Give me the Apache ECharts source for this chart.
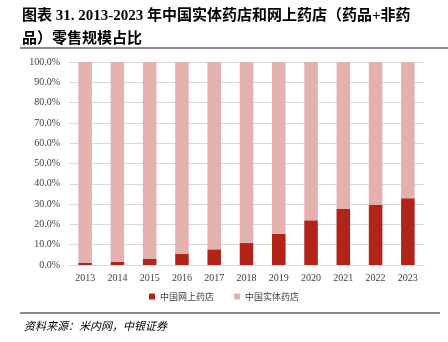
<!DOCTYPE html>
<html><head><meta charset="utf-8">
<script src="https://cdn.jsdelivr.net/npm/echarts@6/dist/echarts.min.js"></script>
<style>html,body{margin:0;padding:0;background:#fff}#c{width:448px;height:342px}</style>
</head><body><div id="c"></div>
<script>
const categories = ['2013','2014','2015','2016','2017','2018','2019','2020','2021','2022','2023'];
const onlineShare = [1.0,1.5,3.0,5.6,7.7,10.8,15.4,22.0,27.6,29.7,32.9];
const physicalShare = onlineShare.map(v => +(100 - v).toFixed(1));
const seriesNames = ['中国网上药店','中国实体药店'];
const titleLines = ['图表 31. 2013-2023 年中国实体药店和网上药店（药品+非药','品）零售规模占比'];
const sourceText = '资料来源：米内网，中银证券';

const serif = '"Liberation Serif","Times New Roman","Noto Sans CJK SC",serif';
const chart = echarts.init(document.getElementById('c'), null, {renderer:'canvas'});
chart.setOption({
  animation:false,
  backgroundColor:'#fff',
  grid:{left:69,right:24,top:62,bottom:77},
  legend:{
    bottom:36,left:'center',itemWidth:6,itemHeight:6,itemGap:20,icon:'rect',
    textStyle:{fontSize:9,color:'#404040',fontFamily:'"Noto Sans CJK SC",sans-serif'},
    data:seriesNames
  },
  xAxis:{
    type:'category',data:categories,
    axisLine:{lineStyle:{color:'#d9d9d9'}},axisTick:{show:false},
    axisLabel:{fontSize:10,color:'#404040',fontFamily:serif,margin:8}
  },
  yAxis:{
    type:'value',min:0,max:100,interval:10,
    axisLabel:{fontSize:10,color:'#404040',fontFamily:serif,formatter:v=>v.toFixed(1)+'%',margin:9},
    splitLine:{lineStyle:{color:'#d9d9d9'}},
    axisLine:{show:false},axisTick:{show:false}
  },
  series:[
    {name:seriesNames[0],type:'bar',stack:'s',data:onlineShare,barWidth:'42%',itemStyle:{color:'#B0241A'}},
    {name:seriesNames[1],type:'bar',stack:'s',data:physicalShare,barWidth:'42%',itemStyle:{color:'#E3B1AE'}}
  ],
  graphic:[
    {type:'text',left:22,top:9,style:{text:titleLines[0],fill:'#000',font:'bold 15px '+serif}},
    {type:'text',left:22,top:32,style:{text:titleLines[1],fill:'#000',font:'bold 15px '+serif}},
    {type:'rect',shape:{x:20,y:47,width:428,height:2},style:{fill:'#8c8c8c'}},
    {type:'rect',shape:{x:20,y:312,width:420,height:2},style:{fill:'#8c8c8c'}},
    {type:'text',left:24,top:320,style:{text:sourceText,font:'italic 11px "Noto Sans CJK SC",serif',fill:'#000'}}
  ]
});
</script></body></html>
